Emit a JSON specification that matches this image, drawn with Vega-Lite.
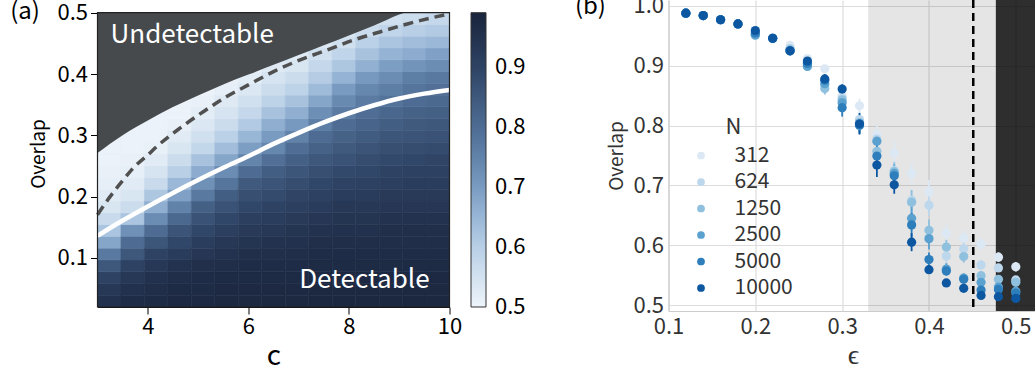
{
"$schema": "https://vega.github.io/schema/vega-lite/v6.json",
"autosize": {"type": "none"},
"padding": {"left": 97.5, "top": 0, "right": 937.5, "bottom": 375},
"spacing": 48,
"resolve": {"scale": {"color": "independent", "stroke": "independent"}, "legend": {"color": "independent", "stroke": "independent"}},
"config": {"font": "Noto Sans CJK JP", "view": {"stroke": null}},
"datasets": {
"cells": [
{"c0":3,"c1":3.4667,"o0":0.02,"o1":0.0392,"v":0.95},{"c0":3,"c1":3.4667,"o0":0.0392,"o1":0.0584,"v":0.93},{"c0":3,"c1":3.4667,"o0":0.0584,"o1":0.0776,"v":0.9},{"c0":3,"c1":3.4667,"o0":0.0776,"o1":0.0968,"v":0.85},{"c0":3,"c1":3.4667,"o0":0.0968,"o1":0.116,"v":0.77},{"c0":3,"c1":3.4667,"o0":0.116,"o1":0.1352,"v":0.68},{"c0":3,"c1":3.4667,"o0":0.1352,"o1":0.1544,"v":0.62},{"c0":3,"c1":3.4667,"o0":0.1544,"o1":0.1736,"v":0.57},{"c0":3,"c1":3.4667,"o0":0.1736,"o1":0.1928,"v":0.54},{"c0":3,"c1":3.4667,"o0":0.1928,"o1":0.212,"v":0.525},{"c0":3,"c1":3.4667,"o0":0.212,"o1":0.2312,"v":0.515},{"c0":3,"c1":3.4667,"o0":0.2312,"o1":0.2504,"v":0.51},{"c0":3,"c1":3.4667,"o0":0.2504,"o1":0.2696,"v":0.505},{"c0":3,"c1":3.4667,"o0":0.2696,"o1":0.2888,"v":0.505},{"c0":3,"c1":3.4667,"o0":0.2888,"o1":0.308,"v":0.505},{"c0":3,"c1":3.4667,"o0":0.308,"o1":0.3272,"v":0.505},{"c0":3,"c1":3.4667,"o0":0.3272,"o1":0.3464,"v":0.505},{"c0":3,"c1":3.4667,"o0":0.3464,"o1":0.3656,"v":0.505},{"c0":3,"c1":3.4667,"o0":0.3656,"o1":0.3848,"v":0.505},{"c0":3,"c1":3.4667,"o0":0.3848,"o1":0.404,"v":0.505},{"c0":3,"c1":3.4667,"o0":0.404,"o1":0.4232,"v":0.505},{"c0":3,"c1":3.4667,"o0":0.4232,"o1":0.4424,"v":0.505},{"c0":3,"c1":3.4667,"o0":0.4424,"o1":0.4616,"v":0.505},{"c0":3,"c1":3.4667,"o0":0.4616,"o1":0.4808,"v":0.505},{"c0":3,"c1":3.4667,"o0":0.4808,"o1":0.5,"v":0.505},
{"c0":3.4667,"c1":3.9333,"o0":0.02,"o1":0.0392,"v":0.965},{"c0":3.4667,"c1":3.9333,"o0":0.0392,"o1":0.0584,"v":0.95},{"c0":3.4667,"c1":3.9333,"o0":0.0584,"o1":0.0776,"v":0.93},{"c0":3.4667,"c1":3.9333,"o0":0.0776,"o1":0.0968,"v":0.9},{"c0":3.4667,"c1":3.9333,"o0":0.0968,"o1":0.116,"v":0.85},{"c0":3.4667,"c1":3.9333,"o0":0.116,"o1":0.1352,"v":0.8},{"c0":3.4667,"c1":3.9333,"o0":0.1352,"o1":0.1544,"v":0.72},{"c0":3.4667,"c1":3.9333,"o0":0.1544,"o1":0.1736,"v":0.62},{"c0":3.4667,"c1":3.9333,"o0":0.1736,"o1":0.1928,"v":0.565},{"c0":3.4667,"c1":3.9333,"o0":0.1928,"o1":0.212,"v":0.54},{"c0":3.4667,"c1":3.9333,"o0":0.212,"o1":0.2312,"v":0.525},{"c0":3.4667,"c1":3.9333,"o0":0.2312,"o1":0.2504,"v":0.515},{"c0":3.4667,"c1":3.9333,"o0":0.2504,"o1":0.2696,"v":0.51},{"c0":3.4667,"c1":3.9333,"o0":0.2696,"o1":0.2888,"v":0.505},{"c0":3.4667,"c1":3.9333,"o0":0.2888,"o1":0.308,"v":0.505},{"c0":3.4667,"c1":3.9333,"o0":0.308,"o1":0.3272,"v":0.505},{"c0":3.4667,"c1":3.9333,"o0":0.3272,"o1":0.3464,"v":0.505},{"c0":3.4667,"c1":3.9333,"o0":0.3464,"o1":0.3656,"v":0.505},{"c0":3.4667,"c1":3.9333,"o0":0.3656,"o1":0.3848,"v":0.505},{"c0":3.4667,"c1":3.9333,"o0":0.3848,"o1":0.404,"v":0.505},{"c0":3.4667,"c1":3.9333,"o0":0.404,"o1":0.4232,"v":0.505},{"c0":3.4667,"c1":3.9333,"o0":0.4232,"o1":0.4424,"v":0.505},{"c0":3.4667,"c1":3.9333,"o0":0.4424,"o1":0.4616,"v":0.505},{"c0":3.4667,"c1":3.9333,"o0":0.4616,"o1":0.4808,"v":0.505},{"c0":3.4667,"c1":3.9333,"o0":0.4808,"o1":0.5,"v":0.505},
{"c0":3.9333,"c1":4.4,"o0":0.02,"o1":0.0392,"v":0.97},{"c0":3.9333,"c1":4.4,"o0":0.0392,"o1":0.0584,"v":0.96},{"c0":3.9333,"c1":4.4,"o0":0.0584,"o1":0.0776,"v":0.95},{"c0":3.9333,"c1":4.4,"o0":0.0776,"o1":0.0968,"v":0.93},{"c0":3.9333,"c1":4.4,"o0":0.0968,"o1":0.116,"v":0.9},{"c0":3.9333,"c1":4.4,"o0":0.116,"o1":0.1352,"v":0.855},{"c0":3.9333,"c1":4.4,"o0":0.1352,"o1":0.1544,"v":0.8},{"c0":3.9333,"c1":4.4,"o0":0.1544,"o1":0.1736,"v":0.73},{"c0":3.9333,"c1":4.4,"o0":0.1736,"o1":0.1928,"v":0.665},{"c0":3.9333,"c1":4.4,"o0":0.1928,"o1":0.212,"v":0.615},{"c0":3.9333,"c1":4.4,"o0":0.212,"o1":0.2312,"v":0.57},{"c0":3.9333,"c1":4.4,"o0":0.2312,"o1":0.2504,"v":0.545},{"c0":3.9333,"c1":4.4,"o0":0.2504,"o1":0.2696,"v":0.525},{"c0":3.9333,"c1":4.4,"o0":0.2696,"o1":0.2888,"v":0.512},{"c0":3.9333,"c1":4.4,"o0":0.2888,"o1":0.308,"v":0.505},{"c0":3.9333,"c1":4.4,"o0":0.308,"o1":0.3272,"v":0.505},{"c0":3.9333,"c1":4.4,"o0":0.3272,"o1":0.3464,"v":0.505},{"c0":3.9333,"c1":4.4,"o0":0.3464,"o1":0.3656,"v":0.505},{"c0":3.9333,"c1":4.4,"o0":0.3656,"o1":0.3848,"v":0.505},{"c0":3.9333,"c1":4.4,"o0":0.3848,"o1":0.404,"v":0.505},{"c0":3.9333,"c1":4.4,"o0":0.404,"o1":0.4232,"v":0.505},{"c0":3.9333,"c1":4.4,"o0":0.4232,"o1":0.4424,"v":0.505},{"c0":3.9333,"c1":4.4,"o0":0.4424,"o1":0.4616,"v":0.505},{"c0":3.9333,"c1":4.4,"o0":0.4616,"o1":0.4808,"v":0.505},{"c0":3.9333,"c1":4.4,"o0":0.4808,"o1":0.5,"v":0.505},
{"c0":4.4,"c1":4.8667,"o0":0.02,"o1":0.0392,"v":0.975},{"c0":4.4,"c1":4.8667,"o0":0.0392,"o1":0.0584,"v":0.97},{"c0":4.4,"c1":4.8667,"o0":0.0584,"o1":0.0776,"v":0.96},{"c0":4.4,"c1":4.8667,"o0":0.0776,"o1":0.0968,"v":0.945},{"c0":4.4,"c1":4.8667,"o0":0.0968,"o1":0.116,"v":0.92},{"c0":4.4,"c1":4.8667,"o0":0.116,"o1":0.1352,"v":0.89},{"c0":4.4,"c1":4.8667,"o0":0.1352,"o1":0.1544,"v":0.86},{"c0":4.4,"c1":4.8667,"o0":0.1544,"o1":0.1736,"v":0.81},{"c0":4.4,"c1":4.8667,"o0":0.1736,"o1":0.1928,"v":0.75},{"c0":4.4,"c1":4.8667,"o0":0.1928,"o1":0.212,"v":0.69},{"c0":4.4,"c1":4.8667,"o0":0.212,"o1":0.2312,"v":0.645},{"c0":4.4,"c1":4.8667,"o0":0.2312,"o1":0.2504,"v":0.6},{"c0":4.4,"c1":4.8667,"o0":0.2504,"o1":0.2696,"v":0.565},{"c0":4.4,"c1":4.8667,"o0":0.2696,"o1":0.2888,"v":0.54},{"c0":4.4,"c1":4.8667,"o0":0.2888,"o1":0.308,"v":0.525},{"c0":4.4,"c1":4.8667,"o0":0.308,"o1":0.3272,"v":0.51},{"c0":4.4,"c1":4.8667,"o0":0.3272,"o1":0.3464,"v":0.505},{"c0":4.4,"c1":4.8667,"o0":0.3464,"o1":0.3656,"v":0.505},{"c0":4.4,"c1":4.8667,"o0":0.3656,"o1":0.3848,"v":0.505},{"c0":4.4,"c1":4.8667,"o0":0.3848,"o1":0.404,"v":0.505},{"c0":4.4,"c1":4.8667,"o0":0.404,"o1":0.4232,"v":0.505},{"c0":4.4,"c1":4.8667,"o0":0.4232,"o1":0.4424,"v":0.505},{"c0":4.4,"c1":4.8667,"o0":0.4424,"o1":0.4616,"v":0.505},{"c0":4.4,"c1":4.8667,"o0":0.4616,"o1":0.4808,"v":0.505},{"c0":4.4,"c1":4.8667,"o0":0.4808,"o1":0.5,"v":0.505},
{"c0":4.8667,"c1":5.3333,"o0":0.02,"o1":0.0392,"v":0.975},{"c0":4.8667,"c1":5.3333,"o0":0.0392,"o1":0.0584,"v":0.97},{"c0":4.8667,"c1":5.3333,"o0":0.0584,"o1":0.0776,"v":0.965},{"c0":4.8667,"c1":5.3333,"o0":0.0776,"o1":0.0968,"v":0.955},{"c0":4.8667,"c1":5.3333,"o0":0.0968,"o1":0.116,"v":0.935},{"c0":4.8667,"c1":5.3333,"o0":0.116,"o1":0.1352,"v":0.915},{"c0":4.8667,"c1":5.3333,"o0":0.1352,"o1":0.1544,"v":0.89},{"c0":4.8667,"c1":5.3333,"o0":0.1544,"o1":0.1736,"v":0.865},{"c0":4.8667,"c1":5.3333,"o0":0.1736,"o1":0.1928,"v":0.83},{"c0":4.8667,"c1":5.3333,"o0":0.1928,"o1":0.212,"v":0.77},{"c0":4.8667,"c1":5.3333,"o0":0.212,"o1":0.2312,"v":0.72},{"c0":4.8667,"c1":5.3333,"o0":0.2312,"o1":0.2504,"v":0.67},{"c0":4.8667,"c1":5.3333,"o0":0.2504,"o1":0.2696,"v":0.625},{"c0":4.8667,"c1":5.3333,"o0":0.2696,"o1":0.2888,"v":0.58},{"c0":4.8667,"c1":5.3333,"o0":0.2888,"o1":0.308,"v":0.555},{"c0":4.8667,"c1":5.3333,"o0":0.308,"o1":0.3272,"v":0.535},{"c0":4.8667,"c1":5.3333,"o0":0.3272,"o1":0.3464,"v":0.52},{"c0":4.8667,"c1":5.3333,"o0":0.3464,"o1":0.3656,"v":0.51},{"c0":4.8667,"c1":5.3333,"o0":0.3656,"o1":0.3848,"v":0.505},{"c0":4.8667,"c1":5.3333,"o0":0.3848,"o1":0.404,"v":0.505},{"c0":4.8667,"c1":5.3333,"o0":0.404,"o1":0.4232,"v":0.505},{"c0":4.8667,"c1":5.3333,"o0":0.4232,"o1":0.4424,"v":0.505},{"c0":4.8667,"c1":5.3333,"o0":0.4424,"o1":0.4616,"v":0.505},{"c0":4.8667,"c1":5.3333,"o0":0.4616,"o1":0.4808,"v":0.505},{"c0":4.8667,"c1":5.3333,"o0":0.4808,"o1":0.5,"v":0.505},
{"c0":5.3333,"c1":5.8,"o0":0.02,"o1":0.0392,"v":0.978},{"c0":5.3333,"c1":5.8,"o0":0.0392,"o1":0.0584,"v":0.975},{"c0":5.3333,"c1":5.8,"o0":0.0584,"o1":0.0776,"v":0.97},{"c0":5.3333,"c1":5.8,"o0":0.0776,"o1":0.0968,"v":0.96},{"c0":5.3333,"c1":5.8,"o0":0.0968,"o1":0.116,"v":0.945},{"c0":5.3333,"c1":5.8,"o0":0.116,"o1":0.1352,"v":0.93},{"c0":5.3333,"c1":5.8,"o0":0.1352,"o1":0.1544,"v":0.91},{"c0":5.3333,"c1":5.8,"o0":0.1544,"o1":0.1736,"v":0.89},{"c0":5.3333,"c1":5.8,"o0":0.1736,"o1":0.1928,"v":0.865},{"c0":5.3333,"c1":5.8,"o0":0.1928,"o1":0.212,"v":0.835},{"c0":5.3333,"c1":5.8,"o0":0.212,"o1":0.2312,"v":0.78},{"c0":5.3333,"c1":5.8,"o0":0.2312,"o1":0.2504,"v":0.73},{"c0":5.3333,"c1":5.8,"o0":0.2504,"o1":0.2696,"v":0.68},{"c0":5.3333,"c1":5.8,"o0":0.2696,"o1":0.2888,"v":0.635},{"c0":5.3333,"c1":5.8,"o0":0.2888,"o1":0.308,"v":0.595},{"c0":5.3333,"c1":5.8,"o0":0.308,"o1":0.3272,"v":0.565},{"c0":5.3333,"c1":5.8,"o0":0.3272,"o1":0.3464,"v":0.545},{"c0":5.3333,"c1":5.8,"o0":0.3464,"o1":0.3656,"v":0.53},{"c0":5.3333,"c1":5.8,"o0":0.3656,"o1":0.3848,"v":0.515},{"c0":5.3333,"c1":5.8,"o0":0.3848,"o1":0.404,"v":0.51},{"c0":5.3333,"c1":5.8,"o0":0.404,"o1":0.4232,"v":0.505},{"c0":5.3333,"c1":5.8,"o0":0.4232,"o1":0.4424,"v":0.505},{"c0":5.3333,"c1":5.8,"o0":0.4424,"o1":0.4616,"v":0.505},{"c0":5.3333,"c1":5.8,"o0":0.4616,"o1":0.4808,"v":0.505},{"c0":5.3333,"c1":5.8,"o0":0.4808,"o1":0.5,"v":0.505},
{"c0":5.8,"c1":6.2667,"o0":0.02,"o1":0.0392,"v":0.978},{"c0":5.8,"c1":6.2667,"o0":0.0392,"o1":0.0584,"v":0.975},{"c0":5.8,"c1":6.2667,"o0":0.0584,"o1":0.0776,"v":0.97},{"c0":5.8,"c1":6.2667,"o0":0.0776,"o1":0.0968,"v":0.965},{"c0":5.8,"c1":6.2667,"o0":0.0968,"o1":0.116,"v":0.955},{"c0":5.8,"c1":6.2667,"o0":0.116,"o1":0.1352,"v":0.94},{"c0":5.8,"c1":6.2667,"o0":0.1352,"o1":0.1544,"v":0.925},{"c0":5.8,"c1":6.2667,"o0":0.1544,"o1":0.1736,"v":0.91},{"c0":5.8,"c1":6.2667,"o0":0.1736,"o1":0.1928,"v":0.89},{"c0":5.8,"c1":6.2667,"o0":0.1928,"o1":0.212,"v":0.87},{"c0":5.8,"c1":6.2667,"o0":0.212,"o1":0.2312,"v":0.845},{"c0":5.8,"c1":6.2667,"o0":0.2312,"o1":0.2504,"v":0.8},{"c0":5.8,"c1":6.2667,"o0":0.2504,"o1":0.2696,"v":0.745},{"c0":5.8,"c1":6.2667,"o0":0.2696,"o1":0.2888,"v":0.695},{"c0":5.8,"c1":6.2667,"o0":0.2888,"o1":0.308,"v":0.65},{"c0":5.8,"c1":6.2667,"o0":0.308,"o1":0.3272,"v":0.61},{"c0":5.8,"c1":6.2667,"o0":0.3272,"o1":0.3464,"v":0.575},{"c0":5.8,"c1":6.2667,"o0":0.3464,"o1":0.3656,"v":0.555},{"c0":5.8,"c1":6.2667,"o0":0.3656,"o1":0.3848,"v":0.535},{"c0":5.8,"c1":6.2667,"o0":0.3848,"o1":0.404,"v":0.52},{"c0":5.8,"c1":6.2667,"o0":0.404,"o1":0.4232,"v":0.51},{"c0":5.8,"c1":6.2667,"o0":0.4232,"o1":0.4424,"v":0.505},{"c0":5.8,"c1":6.2667,"o0":0.4424,"o1":0.4616,"v":0.505},{"c0":5.8,"c1":6.2667,"o0":0.4616,"o1":0.4808,"v":0.505},{"c0":5.8,"c1":6.2667,"o0":0.4808,"o1":0.5,"v":0.505},
{"c0":6.2667,"c1":6.7333,"o0":0.02,"o1":0.0392,"v":0.978},{"c0":6.2667,"c1":6.7333,"o0":0.0392,"o1":0.0584,"v":0.975},{"c0":6.2667,"c1":6.7333,"o0":0.0584,"o1":0.0776,"v":0.97},{"c0":6.2667,"c1":6.7333,"o0":0.0776,"o1":0.0968,"v":0.965},{"c0":6.2667,"c1":6.7333,"o0":0.0968,"o1":0.116,"v":0.955},{"c0":6.2667,"c1":6.7333,"o0":0.116,"o1":0.1352,"v":0.945},{"c0":6.2667,"c1":6.7333,"o0":0.1352,"o1":0.1544,"v":0.93},{"c0":6.2667,"c1":6.7333,"o0":0.1544,"o1":0.1736,"v":0.915},{"c0":6.2667,"c1":6.7333,"o0":0.1736,"o1":0.1928,"v":0.9},{"c0":6.2667,"c1":6.7333,"o0":0.1928,"o1":0.212,"v":0.88},{"c0":6.2667,"c1":6.7333,"o0":0.212,"o1":0.2312,"v":0.86},{"c0":6.2667,"c1":6.7333,"o0":0.2312,"o1":0.2504,"v":0.835},{"c0":6.2667,"c1":6.7333,"o0":0.2504,"o1":0.2696,"v":0.79},{"c0":6.2667,"c1":6.7333,"o0":0.2696,"o1":0.2888,"v":0.74},{"c0":6.2667,"c1":6.7333,"o0":0.2888,"o1":0.308,"v":0.7},{"c0":6.2667,"c1":6.7333,"o0":0.308,"o1":0.3272,"v":0.665},{"c0":6.2667,"c1":6.7333,"o0":0.3272,"o1":0.3464,"v":0.625},{"c0":6.2667,"c1":6.7333,"o0":0.3464,"o1":0.3656,"v":0.59},{"c0":6.2667,"c1":6.7333,"o0":0.3656,"o1":0.3848,"v":0.565},{"c0":6.2667,"c1":6.7333,"o0":0.3848,"o1":0.404,"v":0.545},{"c0":6.2667,"c1":6.7333,"o0":0.404,"o1":0.4232,"v":0.53},{"c0":6.2667,"c1":6.7333,"o0":0.4232,"o1":0.4424,"v":0.515},{"c0":6.2667,"c1":6.7333,"o0":0.4424,"o1":0.4616,"v":0.505},{"c0":6.2667,"c1":6.7333,"o0":0.4616,"o1":0.4808,"v":0.505},{"c0":6.2667,"c1":6.7333,"o0":0.4808,"o1":0.5,"v":0.505},
{"c0":6.7333,"c1":7.2,"o0":0.02,"o1":0.0392,"v":0.978},{"c0":6.7333,"c1":7.2,"o0":0.0392,"o1":0.0584,"v":0.975},{"c0":6.7333,"c1":7.2,"o0":0.0584,"o1":0.0776,"v":0.97},{"c0":6.7333,"c1":7.2,"o0":0.0776,"o1":0.0968,"v":0.965},{"c0":6.7333,"c1":7.2,"o0":0.0968,"o1":0.116,"v":0.96},{"c0":6.7333,"c1":7.2,"o0":0.116,"o1":0.1352,"v":0.95},{"c0":6.7333,"c1":7.2,"o0":0.1352,"o1":0.1544,"v":0.94},{"c0":6.7333,"c1":7.2,"o0":0.1544,"o1":0.1736,"v":0.925},{"c0":6.7333,"c1":7.2,"o0":0.1736,"o1":0.1928,"v":0.91},{"c0":6.7333,"c1":7.2,"o0":0.1928,"o1":0.212,"v":0.895},{"c0":6.7333,"c1":7.2,"o0":0.212,"o1":0.2312,"v":0.875},{"c0":6.7333,"c1":7.2,"o0":0.2312,"o1":0.2504,"v":0.855},{"c0":6.7333,"c1":7.2,"o0":0.2504,"o1":0.2696,"v":0.83},{"c0":6.7333,"c1":7.2,"o0":0.2696,"o1":0.2888,"v":0.795},{"c0":6.7333,"c1":7.2,"o0":0.2888,"o1":0.308,"v":0.75},{"c0":6.7333,"c1":7.2,"o0":0.308,"o1":0.3272,"v":0.705},{"c0":6.7333,"c1":7.2,"o0":0.3272,"o1":0.3464,"v":0.665},{"c0":6.7333,"c1":7.2,"o0":0.3464,"o1":0.3656,"v":0.625},{"c0":6.7333,"c1":7.2,"o0":0.3656,"o1":0.3848,"v":0.59},{"c0":6.7333,"c1":7.2,"o0":0.3848,"o1":0.404,"v":0.565},{"c0":6.7333,"c1":7.2,"o0":0.404,"o1":0.4232,"v":0.54},{"c0":6.7333,"c1":7.2,"o0":0.4232,"o1":0.4424,"v":0.525},{"c0":6.7333,"c1":7.2,"o0":0.4424,"o1":0.4616,"v":0.515},{"c0":6.7333,"c1":7.2,"o0":0.4616,"o1":0.4808,"v":0.505},{"c0":6.7333,"c1":7.2,"o0":0.4808,"o1":0.5,"v":0.505},
{"c0":7.2,"c1":7.6667,"o0":0.02,"o1":0.0392,"v":0.98},{"c0":7.2,"c1":7.6667,"o0":0.0392,"o1":0.0584,"v":0.978},{"c0":7.2,"c1":7.6667,"o0":0.0584,"o1":0.0776,"v":0.975},{"c0":7.2,"c1":7.6667,"o0":0.0776,"o1":0.0968,"v":0.97},{"c0":7.2,"c1":7.6667,"o0":0.0968,"o1":0.116,"v":0.965},{"c0":7.2,"c1":7.6667,"o0":0.116,"o1":0.1352,"v":0.955},{"c0":7.2,"c1":7.6667,"o0":0.1352,"o1":0.1544,"v":0.945},{"c0":7.2,"c1":7.6667,"o0":0.1544,"o1":0.1736,"v":0.935},{"c0":7.2,"c1":7.6667,"o0":0.1736,"o1":0.1928,"v":0.92},{"c0":7.2,"c1":7.6667,"o0":0.1928,"o1":0.212,"v":0.905},{"c0":7.2,"c1":7.6667,"o0":0.212,"o1":0.2312,"v":0.89},{"c0":7.2,"c1":7.6667,"o0":0.2312,"o1":0.2504,"v":0.87},{"c0":7.2,"c1":7.6667,"o0":0.2504,"o1":0.2696,"v":0.85},{"c0":7.2,"c1":7.6667,"o0":0.2696,"o1":0.2888,"v":0.825},{"c0":7.2,"c1":7.6667,"o0":0.2888,"o1":0.308,"v":0.8},{"c0":7.2,"c1":7.6667,"o0":0.308,"o1":0.3272,"v":0.76},{"c0":7.2,"c1":7.6667,"o0":0.3272,"o1":0.3464,"v":0.725},{"c0":7.2,"c1":7.6667,"o0":0.3464,"o1":0.3656,"v":0.68},{"c0":7.2,"c1":7.6667,"o0":0.3656,"o1":0.3848,"v":0.64},{"c0":7.2,"c1":7.6667,"o0":0.3848,"o1":0.404,"v":0.605},{"c0":7.2,"c1":7.6667,"o0":0.404,"o1":0.4232,"v":0.575},{"c0":7.2,"c1":7.6667,"o0":0.4232,"o1":0.4424,"v":0.555},{"c0":7.2,"c1":7.6667,"o0":0.4424,"o1":0.4616,"v":0.535},{"c0":7.2,"c1":7.6667,"o0":0.4616,"o1":0.4808,"v":0.52},{"c0":7.2,"c1":7.6667,"o0":0.4808,"o1":0.5,"v":0.51},
{"c0":7.6667,"c1":8.1333,"o0":0.02,"o1":0.0392,"v":0.98},{"c0":7.6667,"c1":8.1333,"o0":0.0392,"o1":0.0584,"v":0.978},{"c0":7.6667,"c1":8.1333,"o0":0.0584,"o1":0.0776,"v":0.975},{"c0":7.6667,"c1":8.1333,"o0":0.0776,"o1":0.0968,"v":0.97},{"c0":7.6667,"c1":8.1333,"o0":0.0968,"o1":0.116,"v":0.965},{"c0":7.6667,"c1":8.1333,"o0":0.116,"o1":0.1352,"v":0.96},{"c0":7.6667,"c1":8.1333,"o0":0.1352,"o1":0.1544,"v":0.95},{"c0":7.6667,"c1":8.1333,"o0":0.1544,"o1":0.1736,"v":0.94},{"c0":7.6667,"c1":8.1333,"o0":0.1736,"o1":0.1928,"v":0.93},{"c0":7.6667,"c1":8.1333,"o0":0.1928,"o1":0.212,"v":0.915},{"c0":7.6667,"c1":8.1333,"o0":0.212,"o1":0.2312,"v":0.9},{"c0":7.6667,"c1":8.1333,"o0":0.2312,"o1":0.2504,"v":0.885},{"c0":7.6667,"c1":8.1333,"o0":0.2504,"o1":0.2696,"v":0.865},{"c0":7.6667,"c1":8.1333,"o0":0.2696,"o1":0.2888,"v":0.845},{"c0":7.6667,"c1":8.1333,"o0":0.2888,"o1":0.308,"v":0.825},{"c0":7.6667,"c1":8.1333,"o0":0.308,"o1":0.3272,"v":0.8},{"c0":7.6667,"c1":8.1333,"o0":0.3272,"o1":0.3464,"v":0.765},{"c0":7.6667,"c1":8.1333,"o0":0.3464,"o1":0.3656,"v":0.735},{"c0":7.6667,"c1":8.1333,"o0":0.3656,"o1":0.3848,"v":0.7},{"c0":7.6667,"c1":8.1333,"o0":0.3848,"o1":0.404,"v":0.655},{"c0":7.6667,"c1":8.1333,"o0":0.404,"o1":0.4232,"v":0.615},{"c0":7.6667,"c1":8.1333,"o0":0.4232,"o1":0.4424,"v":0.585},{"c0":7.6667,"c1":8.1333,"o0":0.4424,"o1":0.4616,"v":0.555},{"c0":7.6667,"c1":8.1333,"o0":0.4616,"o1":0.4808,"v":0.54},{"c0":7.6667,"c1":8.1333,"o0":0.4808,"o1":0.5,"v":0.52},
{"c0":8.1333,"c1":8.6,"o0":0.02,"o1":0.0392,"v":0.98},{"c0":8.1333,"c1":8.6,"o0":0.0392,"o1":0.0584,"v":0.978},{"c0":8.1333,"c1":8.6,"o0":0.0584,"o1":0.0776,"v":0.975},{"c0":8.1333,"c1":8.6,"o0":0.0776,"o1":0.0968,"v":0.97},{"c0":8.1333,"c1":8.6,"o0":0.0968,"o1":0.116,"v":0.965},{"c0":8.1333,"c1":8.6,"o0":0.116,"o1":0.1352,"v":0.96},{"c0":8.1333,"c1":8.6,"o0":0.1352,"o1":0.1544,"v":0.95},{"c0":8.1333,"c1":8.6,"o0":0.1544,"o1":0.1736,"v":0.94},{"c0":8.1333,"c1":8.6,"o0":0.1736,"o1":0.1928,"v":0.93},{"c0":8.1333,"c1":8.6,"o0":0.1928,"o1":0.212,"v":0.92},{"c0":8.1333,"c1":8.6,"o0":0.212,"o1":0.2312,"v":0.905},{"c0":8.1333,"c1":8.6,"o0":0.2312,"o1":0.2504,"v":0.89},{"c0":8.1333,"c1":8.6,"o0":0.2504,"o1":0.2696,"v":0.875},{"c0":8.1333,"c1":8.6,"o0":0.2696,"o1":0.2888,"v":0.86},{"c0":8.1333,"c1":8.6,"o0":0.2888,"o1":0.308,"v":0.84},{"c0":8.1333,"c1":8.6,"o0":0.308,"o1":0.3272,"v":0.82},{"c0":8.1333,"c1":8.6,"o0":0.3272,"o1":0.3464,"v":0.795},{"c0":8.1333,"c1":8.6,"o0":0.3464,"o1":0.3656,"v":0.765},{"c0":8.1333,"c1":8.6,"o0":0.3656,"o1":0.3848,"v":0.74},{"c0":8.1333,"c1":8.6,"o0":0.3848,"o1":0.404,"v":0.705},{"c0":8.1333,"c1":8.6,"o0":0.404,"o1":0.4232,"v":0.66},{"c0":8.1333,"c1":8.6,"o0":0.4232,"o1":0.4424,"v":0.625},{"c0":8.1333,"c1":8.6,"o0":0.4424,"o1":0.4616,"v":0.595},{"c0":8.1333,"c1":8.6,"o0":0.4616,"o1":0.4808,"v":0.565},{"c0":8.1333,"c1":8.6,"o0":0.4808,"o1":0.5,"v":0.545},
{"c0":8.6,"c1":9.0667,"o0":0.02,"o1":0.0392,"v":0.98},{"c0":8.6,"c1":9.0667,"o0":0.0392,"o1":0.0584,"v":0.978},{"c0":8.6,"c1":9.0667,"o0":0.0584,"o1":0.0776,"v":0.975},{"c0":8.6,"c1":9.0667,"o0":0.0776,"o1":0.0968,"v":0.97},{"c0":8.6,"c1":9.0667,"o0":0.0968,"o1":0.116,"v":0.965},{"c0":8.6,"c1":9.0667,"o0":0.116,"o1":0.1352,"v":0.96},{"c0":8.6,"c1":9.0667,"o0":0.1352,"o1":0.1544,"v":0.955},{"c0":8.6,"c1":9.0667,"o0":0.1544,"o1":0.1736,"v":0.945},{"c0":8.6,"c1":9.0667,"o0":0.1736,"o1":0.1928,"v":0.935},{"c0":8.6,"c1":9.0667,"o0":0.1928,"o1":0.212,"v":0.925},{"c0":8.6,"c1":9.0667,"o0":0.212,"o1":0.2312,"v":0.91},{"c0":8.6,"c1":9.0667,"o0":0.2312,"o1":0.2504,"v":0.9},{"c0":8.6,"c1":9.0667,"o0":0.2504,"o1":0.2696,"v":0.885},{"c0":8.6,"c1":9.0667,"o0":0.2696,"o1":0.2888,"v":0.87},{"c0":8.6,"c1":9.0667,"o0":0.2888,"o1":0.308,"v":0.855},{"c0":8.6,"c1":9.0667,"o0":0.308,"o1":0.3272,"v":0.835},{"c0":8.6,"c1":9.0667,"o0":0.3272,"o1":0.3464,"v":0.815},{"c0":8.6,"c1":9.0667,"o0":0.3464,"o1":0.3656,"v":0.785},{"c0":8.6,"c1":9.0667,"o0":0.3656,"o1":0.3848,"v":0.76},{"c0":8.6,"c1":9.0667,"o0":0.3848,"o1":0.404,"v":0.73},{"c0":8.6,"c1":9.0667,"o0":0.404,"o1":0.4232,"v":0.695},{"c0":8.6,"c1":9.0667,"o0":0.4232,"o1":0.4424,"v":0.655},{"c0":8.6,"c1":9.0667,"o0":0.4424,"o1":0.4616,"v":0.62},{"c0":8.6,"c1":9.0667,"o0":0.4616,"o1":0.4808,"v":0.585},{"c0":8.6,"c1":9.0667,"o0":0.4808,"o1":0.5,"v":0.555},
{"c0":9.0667,"c1":9.5333,"o0":0.02,"o1":0.0392,"v":0.98},{"c0":9.0667,"c1":9.5333,"o0":0.0392,"o1":0.0584,"v":0.978},{"c0":9.0667,"c1":9.5333,"o0":0.0584,"o1":0.0776,"v":0.975},{"c0":9.0667,"c1":9.5333,"o0":0.0776,"o1":0.0968,"v":0.97},{"c0":9.0667,"c1":9.5333,"o0":0.0968,"o1":0.116,"v":0.965},{"c0":9.0667,"c1":9.5333,"o0":0.116,"o1":0.1352,"v":0.96},{"c0":9.0667,"c1":9.5333,"o0":0.1352,"o1":0.1544,"v":0.955},{"c0":9.0667,"c1":9.5333,"o0":0.1544,"o1":0.1736,"v":0.945},{"c0":9.0667,"c1":9.5333,"o0":0.1736,"o1":0.1928,"v":0.935},{"c0":9.0667,"c1":9.5333,"o0":0.1928,"o1":0.212,"v":0.925},{"c0":9.0667,"c1":9.5333,"o0":0.212,"o1":0.2312,"v":0.915},{"c0":9.0667,"c1":9.5333,"o0":0.2312,"o1":0.2504,"v":0.905},{"c0":9.0667,"c1":9.5333,"o0":0.2504,"o1":0.2696,"v":0.89},{"c0":9.0667,"c1":9.5333,"o0":0.2696,"o1":0.2888,"v":0.875},{"c0":9.0667,"c1":9.5333,"o0":0.2888,"o1":0.308,"v":0.86},{"c0":9.0667,"c1":9.5333,"o0":0.308,"o1":0.3272,"v":0.845},{"c0":9.0667,"c1":9.5333,"o0":0.3272,"o1":0.3464,"v":0.825},{"c0":9.0667,"c1":9.5333,"o0":0.3464,"o1":0.3656,"v":0.8},{"c0":9.0667,"c1":9.5333,"o0":0.3656,"o1":0.3848,"v":0.78},{"c0":9.0667,"c1":9.5333,"o0":0.3848,"o1":0.404,"v":0.76},{"c0":9.0667,"c1":9.5333,"o0":0.404,"o1":0.4232,"v":0.715},{"c0":9.0667,"c1":9.5333,"o0":0.4232,"o1":0.4424,"v":0.67},{"c0":9.0667,"c1":9.5333,"o0":0.4424,"o1":0.4616,"v":0.635},{"c0":9.0667,"c1":9.5333,"o0":0.4616,"o1":0.4808,"v":0.6},{"c0":9.0667,"c1":9.5333,"o0":0.4808,"o1":0.5,"v":0.565},
{"c0":9.5333,"c1":10,"o0":0.02,"o1":0.0392,"v":0.98},{"c0":9.5333,"c1":10,"o0":0.0392,"o1":0.0584,"v":0.978},{"c0":9.5333,"c1":10,"o0":0.0584,"o1":0.0776,"v":0.975},{"c0":9.5333,"c1":10,"o0":0.0776,"o1":0.0968,"v":0.97},{"c0":9.5333,"c1":10,"o0":0.0968,"o1":0.116,"v":0.965},{"c0":9.5333,"c1":10,"o0":0.116,"o1":0.1352,"v":0.96},{"c0":9.5333,"c1":10,"o0":0.1352,"o1":0.1544,"v":0.955},{"c0":9.5333,"c1":10,"o0":0.1544,"o1":0.1736,"v":0.945},{"c0":9.5333,"c1":10,"o0":0.1736,"o1":0.1928,"v":0.935},{"c0":9.5333,"c1":10,"o0":0.1928,"o1":0.212,"v":0.925},{"c0":9.5333,"c1":10,"o0":0.212,"o1":0.2312,"v":0.915},{"c0":9.5333,"c1":10,"o0":0.2312,"o1":0.2504,"v":0.905},{"c0":9.5333,"c1":10,"o0":0.2504,"o1":0.2696,"v":0.895},{"c0":9.5333,"c1":10,"o0":0.2696,"o1":0.2888,"v":0.88},{"c0":9.5333,"c1":10,"o0":0.2888,"o1":0.308,"v":0.865},{"c0":9.5333,"c1":10,"o0":0.308,"o1":0.3272,"v":0.85},{"c0":9.5333,"c1":10,"o0":0.3272,"o1":0.3464,"v":0.83},{"c0":9.5333,"c1":10,"o0":0.3464,"o1":0.3656,"v":0.81},{"c0":9.5333,"c1":10,"o0":0.3656,"o1":0.3848,"v":0.79},{"c0":9.5333,"c1":10,"o0":0.3848,"o1":0.404,"v":0.77},{"c0":9.5333,"c1":10,"o0":0.404,"o1":0.4232,"v":0.73},{"c0":9.5333,"c1":10,"o0":0.4232,"o1":0.4424,"v":0.69},{"c0":9.5333,"c1":10,"o0":0.4424,"o1":0.4616,"v":0.645},{"c0":9.5333,"c1":10,"o0":0.4616,"o1":0.4808,"v":0.61},{"c0":9.5333,"c1":10,"o0":0.4808,"o1":0.5,"v":0.575}
],
"pts": [
{"eps":0.12,"N":312,"ov":0.987,"err":0.002},{"eps":0.14,"N":312,"ov":0.984,"err":0.002},{"eps":0.16,"N":312,"ov":0.977,"err":0.002},{"eps":0.18,"N":312,"ov":0.97,"err":0.002},{"eps":0.2,"N":312,"ov":0.952,"err":0.003},{"eps":0.22,"N":312,"ov":0.945,"err":0.003},{"eps":0.24,"N":312,"ov":0.934,"err":0.003},{"eps":0.26,"N":312,"ov":0.912,"err":0.004},{"eps":0.28,"N":312,"ov":0.895,"err":0.006},{"eps":0.3,"N":312,"ov":0.85,"err":0.01},{"eps":0.32,"N":312,"ov":0.833,"err":0.012},{"eps":0.34,"N":312,"ov":0.785,"err":0.015},{"eps":0.36,"N":312,"ov":0.754,"err":0.018},{"eps":0.38,"N":312,"ov":0.72,"err":0.018},{"eps":0.4,"N":312,"ov":0.689,"err":0.02},{"eps":0.42,"N":312,"ov":0.62,"err":0.015},{"eps":0.44,"N":312,"ov":0.612,"err":0.012},{"eps":0.46,"N":312,"ov":0.602,"err":0.01},{"eps":0.48,"N":312,"ov":0.58,"err":0.008},{"eps":0.5,"N":312,"ov":0.564,"err":0.008},
{"eps":0.12,"N":624,"ov":0.988,"err":0.002},{"eps":0.14,"N":624,"ov":0.984,"err":0.002},{"eps":0.16,"N":624,"ov":0.977,"err":0.002},{"eps":0.18,"N":624,"ov":0.97,"err":0.002},{"eps":0.2,"N":624,"ov":0.951,"err":0.003},{"eps":0.22,"N":624,"ov":0.946,"err":0.003},{"eps":0.24,"N":624,"ov":0.929,"err":0.003},{"eps":0.26,"N":624,"ov":0.905,"err":0.004},{"eps":0.28,"N":624,"ov":0.868,"err":0.008},{"eps":0.3,"N":624,"ov":0.846,"err":0.01},{"eps":0.32,"N":624,"ov":0.81,"err":0.012},{"eps":0.34,"N":624,"ov":0.778,"err":0.015},{"eps":0.36,"N":624,"ov":0.725,"err":0.015},{"eps":0.38,"N":624,"ov":0.675,"err":0.018},{"eps":0.4,"N":624,"ov":0.667,"err":0.018},{"eps":0.42,"N":624,"ov":0.582,"err":0.012},{"eps":0.44,"N":624,"ov":0.594,"err":0.012},{"eps":0.46,"N":624,"ov":0.567,"err":0.008},{"eps":0.48,"N":624,"ov":0.562,"err":0.006},{"eps":0.5,"N":624,"ov":0.542,"err":0.006},
{"eps":0.12,"N":1250,"ov":0.988,"err":0.002},{"eps":0.14,"N":1250,"ov":0.984,"err":0.002},{"eps":0.16,"N":1250,"ov":0.977,"err":0.002},{"eps":0.18,"N":1250,"ov":0.97,"err":0.002},{"eps":0.2,"N":1250,"ov":0.951,"err":0.003},{"eps":0.22,"N":1250,"ov":0.946,"err":0.003},{"eps":0.24,"N":1250,"ov":0.927,"err":0.003},{"eps":0.26,"N":1250,"ov":0.901,"err":0.004},{"eps":0.28,"N":1250,"ov":0.862,"err":0.01},{"eps":0.3,"N":1250,"ov":0.843,"err":0.01},{"eps":0.32,"N":1250,"ov":0.805,"err":0.012},{"eps":0.34,"N":1250,"ov":0.757,"err":0.015},{"eps":0.36,"N":1250,"ov":0.723,"err":0.015},{"eps":0.38,"N":1250,"ov":0.672,"err":0.02},{"eps":0.4,"N":1250,"ov":0.625,"err":0.018},{"eps":0.42,"N":1250,"ov":0.597,"err":0.012},{"eps":0.44,"N":1250,"ov":0.581,"err":0.01},{"eps":0.46,"N":1250,"ov":0.549,"err":0.006},{"eps":0.48,"N":1250,"ov":0.543,"err":0.006},{"eps":0.5,"N":1250,"ov":0.538,"err":0.005},
{"eps":0.12,"N":2500,"ov":0.988,"err":0.002},{"eps":0.14,"N":2500,"ov":0.984,"err":0.002},{"eps":0.16,"N":2500,"ov":0.977,"err":0.002},{"eps":0.18,"N":2500,"ov":0.97,"err":0.002},{"eps":0.2,"N":2500,"ov":0.952,"err":0.003},{"eps":0.22,"N":2500,"ov":0.946,"err":0.003},{"eps":0.24,"N":2500,"ov":0.925,"err":0.003},{"eps":0.26,"N":2500,"ov":0.899,"err":0.004},{"eps":0.28,"N":2500,"ov":0.87,"err":0.008},{"eps":0.3,"N":2500,"ov":0.838,"err":0.012},{"eps":0.32,"N":2500,"ov":0.8,"err":0.012},{"eps":0.34,"N":2500,"ov":0.774,"err":0.015},{"eps":0.36,"N":2500,"ov":0.72,"err":0.015},{"eps":0.38,"N":2500,"ov":0.645,"err":0.02},{"eps":0.4,"N":2500,"ov":0.611,"err":0.018},{"eps":0.42,"N":2500,"ov":0.56,"err":0.01},{"eps":0.44,"N":2500,"ov":0.545,"err":0.008},{"eps":0.46,"N":2500,"ov":0.538,"err":0.006},{"eps":0.48,"N":2500,"ov":0.53,"err":0.005},{"eps":0.5,"N":2500,"ov":0.523,"err":0.005},
{"eps":0.12,"N":5000,"ov":0.988,"err":0.002},{"eps":0.14,"N":5000,"ov":0.984,"err":0.002},{"eps":0.16,"N":5000,"ov":0.977,"err":0.002},{"eps":0.18,"N":5000,"ov":0.97,"err":0.002},{"eps":0.2,"N":5000,"ov":0.955,"err":0.003},{"eps":0.22,"N":5000,"ov":0.946,"err":0.003},{"eps":0.24,"N":5000,"ov":0.925,"err":0.003},{"eps":0.26,"N":5000,"ov":0.904,"err":0.004},{"eps":0.28,"N":5000,"ov":0.876,"err":0.008},{"eps":0.3,"N":5000,"ov":0.83,"err":0.015},{"eps":0.32,"N":5000,"ov":0.801,"err":0.015},{"eps":0.34,"N":5000,"ov":0.749,"err":0.018},{"eps":0.36,"N":5000,"ov":0.716,"err":0.015},{"eps":0.38,"N":5000,"ov":0.634,"err":0.02},{"eps":0.4,"N":5000,"ov":0.576,"err":0.012},{"eps":0.42,"N":5000,"ov":0.557,"err":0.008},{"eps":0.44,"N":5000,"ov":0.543,"err":0.006},{"eps":0.46,"N":5000,"ov":0.525,"err":0.005},{"eps":0.48,"N":5000,"ov":0.526,"err":0.005},{"eps":0.5,"N":5000,"ov":0.52,"err":0.004},
{"eps":0.12,"N":10000,"ov":0.988,"err":0.002},{"eps":0.14,"N":10000,"ov":0.984,"err":0.002},{"eps":0.16,"N":10000,"ov":0.977,"err":0.002},{"eps":0.18,"N":10000,"ov":0.97,"err":0.002},{"eps":0.2,"N":10000,"ov":0.959,"err":0.003},{"eps":0.22,"N":10000,"ov":0.946,"err":0.003},{"eps":0.24,"N":10000,"ov":0.925,"err":0.003},{"eps":0.26,"N":10000,"ov":0.908,"err":0.004},{"eps":0.28,"N":10000,"ov":0.878,"err":0.008},{"eps":0.3,"N":10000,"ov":0.861,"err":0.008},{"eps":0.32,"N":10000,"ov":0.803,"err":0.018},{"eps":0.34,"N":10000,"ov":0.734,"err":0.02},{"eps":0.36,"N":10000,"ov":0.701,"err":0.015},{"eps":0.38,"N":10000,"ov":0.605,"err":0.015},{"eps":0.4,"N":10000,"ov":0.559,"err":0.006},{"eps":0.42,"N":10000,"ov":0.537,"err":0.005},{"eps":0.44,"N":10000,"ov":0.528,"err":0.005},{"eps":0.46,"N":10000,"ov":0.516,"err":0.004},{"eps":0.48,"N":10000,"ov":0.514,"err":0.004},{"eps":0.5,"N":10000,"ov":0.511,"err":0.004}
]
},
"hconcat": [
{
"width": 352, "height": 307,
"title": {"text": "(a)", "orient": "left", "anchor": "end", "angle": 0, "align": "left", "baseline": "top", "fontSize": 24, "fontWeight": "normal", "color": "black", "offset": -10, "dy": 0},
"layer": [
{"data": {"name": "cells"}, "mark": {"type": "rect", "strokeWidth": 0.6},
 "encoding": {
  "x": {"field": "c0", "type": "quantitative", "title": "c", "scale": {"domain": [3, 10], "nice": false, "zero": false},
        "axis": {"values": [4, 6, 8, 10], "tickSize": 7, "tickColor": "black", "domainColor": "black", "labelFontSize": 22, "labelColor": "black", "labelPadding": 2, "labelFlush": false, "grid": false, "titleFontSize": 28, "titleFontWeight": "normal", "titleColor": "black", "titlePadding": 5}},
  "x2": {"field": "c1"},
  "y": {"field": "o0", "type": "quantitative", "title": "Overlap", "scale": {"domain": [0.02, 0.5207], "nice": false, "zero": false},
        "axis": {"values": [0.1, 0.2, 0.3, 0.4, 0.5], "format": ".1f", "tickSize": 7, "tickColor": "black", "domain": false, "labelFontSize": 22, "labelColor": "black", "labelPadding": 3, "labelFlush": false, "grid": false, "titleFontSize": 19, "titleFontWeight": "normal", "titleColor": "black", "titlePadding": 8}},
  "y2": {"field": "o1"},
  "color": {"field": "v", "type": "quantitative",
            "scale": {"domain": [0.5, 0.55, 0.6, 0.65, 0.7, 0.75, 0.8, 0.85, 0.9, 0.95, 0.99], "range": ["#eef4fa", "#d3e2f0", "#b8cfe6", "#98b6d6", "#7a9bc1", "#6182a9", "#4e6c93", "#3e587c", "#2e4364", "#22314d", "#1a253c"]},
            "legend": {"type": "gradient", "orient": "none", "legendX": 373.5, "legendY": 12.7, "direction": "vertical", "title": null, "gradientLength": 294.3, "gradientThickness": 15, "values": [0.5001, 0.6, 0.7, 0.8, 0.9], "format": ".1f", "labelFontSize": 22, "labelColor": "black", "labelOffset": 9, "gradientStrokeColor": "#333", "gradientStrokeWidth": 1, "padding": 0}},
  "stroke": {"field": "v", "type": "quantitative", "legend": null,
            "scale": {"domain": [0.5, 0.55, 0.6, 0.65, 0.7, 0.75, 0.8, 0.85, 0.9, 0.95, 0.991], "range": ["#eef4fa", "#d3e2f0", "#b8cfe6", "#98b6d6", "#7a9bc1", "#6182a9", "#4e6c93", "#3e587c", "#2e4364", "#22314d", "#1a253c"]}}
 }},
{"data": {"values": [{"c":3,"o":0.271},{"c":3.5,"o":0.3},{"c":4,"o":0.324},{"c":4.5,"o":0.346},{"c":5,"o":0.365},{"c":5.5,"o":0.383},{"c":6,"o":0.399},{"c":6.5,"o":0.415},{"c":7,"o":0.431},{"c":7.5,"o":0.447},{"c":8,"o":0.463},{"c":8.5,"o":0.479},{"c":9,"o":0.497},{"c":9.1,"o":0.5}]},
 "mark": {"type": "area", "color": "#464a4c", "interpolate": "monotone"},
 "encoding": {"x": {"field": "c", "type": "quantitative", "title": "c"}, "y": {"field": "o", "type": "quantitative", "title": "Overlap"}, "y2": {"datum": 0.5}}},
{"data": {"values": [{"c":3,"o":0.136},{"c":3.5,"o":0.161},{"c":4,"o":0.184},{"c":4.5,"o":0.206},{"c":5,"o":0.227},{"c":5.5,"o":0.247},{"c":6,"o":0.266},{"c":6.5,"o":0.286},{"c":7,"o":0.304},{"c":7.5,"o":0.321},{"c":8,"o":0.336},{"c":8.5,"o":0.349},{"c":9,"o":0.36},{"c":9.5,"o":0.368},{"c":10,"o":0.374}]},
 "mark": {"type": "line", "color": "white", "strokeWidth": 4.5, "interpolate": "monotone"},
 "encoding": {"x": {"field": "c", "type": "quantitative", "title": "c"}, "y": {"field": "o", "type": "quantitative", "title": "Overlap"}}},
{"data": {"values": [{"c":3,"o":0.1705},{"c":3.25,"o":0.2},{"c":3.5,"o":0.226},{"c":3.71,"o":0.2466},{"c":4,"o":0.268},{"c":4.18,"o":0.2818},{"c":4.64,"o":0.3117},{"c":5.11,"o":0.3388},{"c":5.57,"o":0.3632},{"c":6,"o":0.3822},{"c":6.5,"o":0.404},{"c":7.03,"o":0.423},{"c":7.57,"o":0.4393},{"c":8.1,"o":0.4555},{"c":8.63,"o":0.469},{"c":9.16,"o":0.4816},{"c":9.69,"o":0.4925},{"c":10,"o":0.498}]},
 "mark": {"type": "line", "color": "#505050", "strokeWidth": 3.5, "strokeDash": [10, 6], "interpolate": "monotone"},
 "encoding": {"x": {"field": "c", "type": "quantitative", "title": "c"}, "y": {"field": "o", "type": "quantitative", "title": "Overlap"}}},
{"data": {"values": [{"c":3.26,"o":0.4507,"t":"Undetectable"},{"c":7.01,"o":0.0516,"t":"Detectable"}]},
 "mark": {"type": "text", "color": "white", "fontSize": 26, "align": "left", "baseline": "alphabetic"},
 "encoding": {"x": {"field": "c", "type": "quantitative", "title": "c"}, "y": {"field": "o", "type": "quantitative", "title": "Overlap"}, "text": {"field": "t"}}},
{"data": {"values": [{}]},
 "mark": {"type": "rect", "filled": false, "color": "#222", "strokeWidth": 1.2},
 "encoding": {"x": {"datum": 3}, "x2": {"datum": 10}, "y": {"datum": 0.02}, "y2": {"datum": 0.5}}}
]
},
{
"width": 369, "height": 311,
"title": {"text": "(b)", "orient": "left", "anchor": "end", "angle": 0, "align": "left", "baseline": "top", "fontSize": 24, "fontWeight": "normal", "color": "black", "offset": 2, "dy": 0},
"resolve": {"scale": {"color": "independent"}},
"layer": [
{"data": {"values": [{"a": 0.33, "b": 0.477}]}, "mark": {"type": "rect", "color": "black", "opacity": 0.1},
 "encoding": {"x": {"field": "a", "type": "quantitative", "title": "ϵ", "scale": {"domain": [0.1, 0.525], "nice": false, "zero": false},
   "axis": {"values": [0.1, 0.2, 0.3, 0.4, 0.5], "format": ".1f", "ticks": false, "labelFontSize": 22, "labelColor": "#333", "labelPadding": 5, "labelFlush": false, "domainColor": "#cccccc", "domainWidth": 1.2, "grid": true, "gridColor": "#dcdcdc", "gridWidth": 1.2, "titleFontSize": 28, "titleFontWeight": "normal", "titleColor": "#333", "titlePadding": 4}},
  "x2": {"field": "b"}}},
{"data": {"values": [{"a": 0.477, "b": 0.525}]}, "mark": {"type": "rect", "color": "black", "opacity": 0.82},
 "encoding": {"x": {"field": "a", "type": "quantitative", "title": "ϵ"}, "x2": {"field": "b"}}},
{"data": {"values": [{"a": 0.451}]}, "mark": {"type": "rule", "color": "black", "strokeWidth": 2.5, "strokeDash": [8, 5]},
 "encoding": {"x": {"field": "a", "type": "quantitative", "title": "ϵ"}}},
{"data": {"name": "pts"}, "mark": {"type": "errorbar", "ticks": false, "rule": {"strokeWidth": 1.8}},
 "encoding": {"x": {"field": "eps", "type": "quantitative", "title": "ϵ"},
  "y": {"field": "ov", "type": "quantitative", "title": "Overlap", "scale": {"domain": [0.49, 1.01], "nice": false, "zero": false},
   "axis": {"values": [0.5, 0.6, 0.7, 0.8, 0.9, 1.0], "format": ".1f", "ticks": false, "labelFontSize": 22, "labelColor": "#333", "labelPadding": 5, "labelFlush": false, "domainColor": "#cccccc", "domainWidth": 1.2, "grid": true, "gridColor": "#dcdcdc", "gridWidth": 1.2, "titleFontSize": 19, "titleFontWeight": "normal", "titleColor": "#333", "titlePadding": 6}},
  "yError": {"field": "err"},
  "color": {"field": "N", "type": "ordinal", "legend": null,
   "scale": {"domain": [312, 624, 1250, 2500, 5000, 10000], "range": ["#dce9f5", "#bdd7ec", "#8fc1de", "#5aa1cf", "#2e7ebc", "#0d57a1"]}}}},
{"data": {"name": "pts"}, "mark": {"type": "point", "filled": true, "size": 85, "opacity": 1, "shape": "circle"},
 "encoding": {"x": {"field": "eps", "type": "quantitative", "title": "ϵ"},
  "y": {"field": "ov", "type": "quantitative", "title": "Overlap"},
  "order": {"field": "N", "type": "quantitative"},
  "color": {"field": "N", "type": "ordinal",
   "scale": {"domain": [312, 624, 1250, 2500, 5000, 10000], "range": ["#dce9f5", "#bdd7ec", "#8fc1de", "#5aa1cf", "#2e7ebc", "#0d57a1"]},
   "legend": {"orient": "none", "legendX": 22, "legendY": 117, "title": "N", "titleFontSize": 22, "titleFontWeight": "normal", "titleColor": "#333", "titleAnchor": "middle", "titleAlign": "right", "titlePadding": 6, "labelFontSize": 21, "labelColor": "#333", "labelOffset": 23, "symbolSize": 60, "symbolType": "circle", "symbolStrokeWidth": 0, "rowPadding": 4.5, "padding": 0}}}}
]
}
]
}
